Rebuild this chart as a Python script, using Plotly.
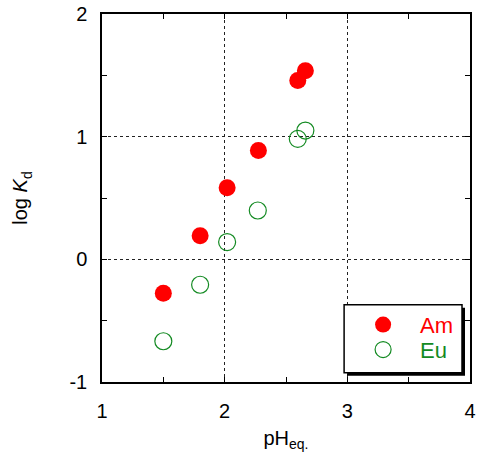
import plotly.graph_objects as go

am_ph = [1.50, 1.80, 2.02, 2.275, 2.596, 2.658]
am_logkd = [-0.277, 0.192, 0.583, 0.887, 1.457, 1.538]
eu_ph = [1.50, 1.80, 2.02, 2.27, 2.596, 2.658]
eu_logkd = [-0.668, -0.207, 0.141, 0.398, 0.982, 1.05]

x_ticks = [1, 2, 3, 4]
y_ticks = [-1, 0, 1, 2]

FONT = "Liberation Sans, Arial, sans-serif"
RED = "#ff0000"
GREEN = "#138a22"

fig = go.Figure()
fig.add_trace(go.Scatter(
    x=am_ph, y=am_logkd, mode="markers", name="Am", legend="legend",
    marker=dict(symbol="circle", size=17, color=RED, line=dict(width=0)),
))
fig.add_trace(go.Scatter(
    x=eu_ph, y=eu_logkd, mode="markers", name="Eu", legend="legend2",
    marker=dict(symbol="circle-open", size=17, color=GREEN, line=dict(width=1.2, color=GREEN)),
))

# body margin is removed by post_script, so figure starts at (0, 0)
W, H = 478, 468
L, T = 101.7, 14
R = W - 470
B = H - 382.3
pw, ph = W - L - R, H - T - B


def px(xp):  # page x -> paper
    return (xp - L) / pw


def py(yp):  # page y -> paper
    return (T + ph - yp) / ph


axis_common = dict(
    showline=True, linecolor="black", linewidth=1.5, mirror="ticks",
    ticks="inside", ticklen=5, tickcolor="black", tickwidth=1,
    showgrid=True, gridcolor="#222222", gridwidth=1, griddash="3px,3px",
    zeroline=False, automargin=False, ticklabeloverflow="allow",
    tickfont=dict(family=FONT, size=20, color="black"),
    minor=dict(ticks="inside", ticklen=5, tickcolor="black", dtick=0.5, showgrid=False),
)

ITEMW = 64
leg_common = dict(
    bgcolor="rgba(0,0,0,0)", borderwidth=0, xanchor="left", yanchor="middle",
    itemwidth=ITEMW, x=px(384 - 6 - ITEMW / 2),
)

fig.update_layout(
    width=W, height=H,
    margin=dict(l=L, r=R, t=T, b=B, autoexpand=False),
    paper_bgcolor="white", plot_bgcolor="white",
    font=dict(family=FONT, size=20, color="black"),
    xaxis=dict(range=[1, 4], tickvals=x_ticks, ticktext=[str(v) for v in x_ticks],
               ticklabelstandoff=10,
               title=dict(text="pH<sub>eq.</sub>", font=dict(family=FONT, size=20), standoff=10),
               **axis_common),
    yaxis=dict(range=[-1, 2], tickvals=y_ticks, ticktext=[str(v) for v in y_ticks],
               ticklabelstandoff=9,
               title=dict(text="log <i>K</i><sub>d</sub>", font=dict(family=FONT, size=20), standoff=36),
               **axis_common),
    showlegend=True,
    legend=dict(y=py(325), font=dict(family=FONT, size=22, color=RED), **leg_common),
    legend2=dict(y=py(350), font=dict(family=FONT, size=22, color=GREEN), **leg_common),
)

# legend frame with drop shadow
fig.add_shape(type="rect", xref="paper", yref="paper",
              x0=px(347), x1=px(465), y0=py(376), y1=py(308),
              fillcolor="black", line=dict(width=0), layer="above")
fig.add_shape(type="rect", xref="paper", yref="paper",
              x0=px(344), x1=px(462), y0=py(373), y1=py(305),
              fillcolor="white", line=dict(width=1.5, color="black"), layer="above")

fig.write_html("out.html", config={"displayModeBar": False},
               post_script="document.body.style.margin='0';")
